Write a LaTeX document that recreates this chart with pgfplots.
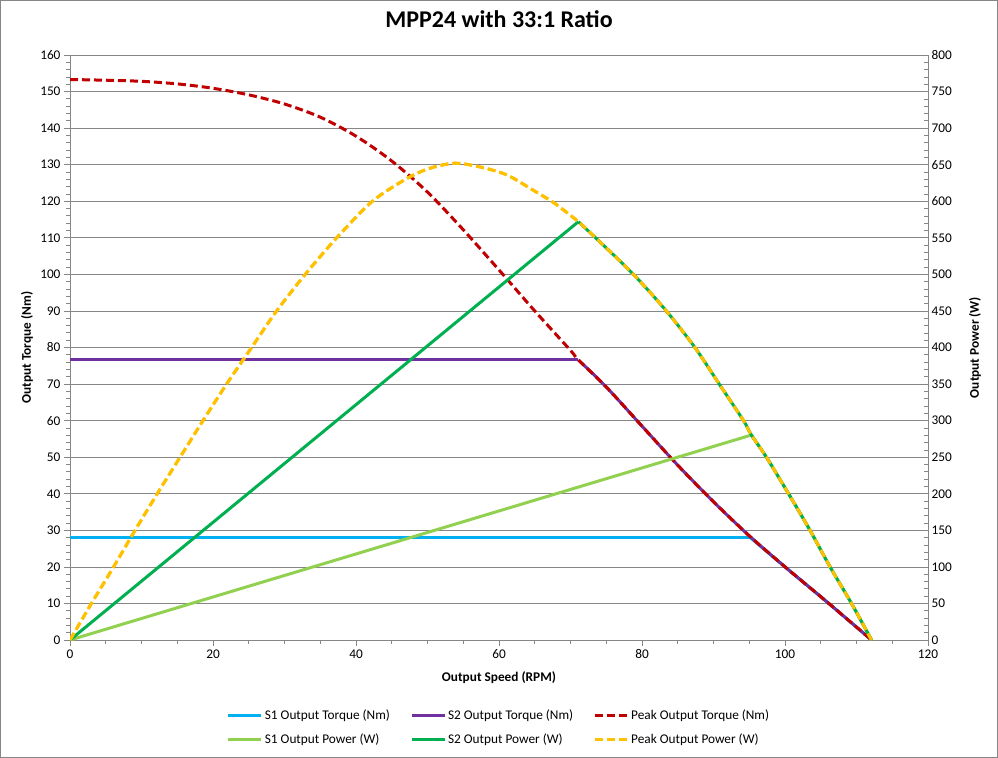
\documentclass[border=0pt]{standalone}
\usepackage{fontspec}
\setmainfont{Carlito}
\usepackage{pgfplots}
\usepackage{pgfplotstable}
\pgfplotsset{compat=1.18}
\definecolor{gridgray}{HTML}{868686}
\definecolor{sonet}{HTML}{00B0F0}
\definecolor{stwot}{HTML}{7030A0}
\definecolor{peakt}{HTML}{C00000}
\definecolor{sonep}{HTML}{92D050}
\definecolor{stwop}{HTML}{00B050}
\definecolor{peakp}{HTML}{FFC000}

\pgfplotstableread{
x y
0 28.1
95.1 28.1
}\SoneTorque

\pgfplotstableread{
x y
95.1 28.1
100 20.0
106 10.2
112.1 0
}\SoneTorqueTail

\pgfplotstableread{
x y
0 76.7
71.1 76.7
}\StwoTorque

\pgfplotstableread{
x y
71.1 76.6
75 69.2
80 58.5
85 47.8
90 37.8
95 28.5
100 20.0
106 10.2
112.1 0
}\StwoTorqueTail

\pgfplotstableread{
x y
0 153.3
5 153.1
10 152.8
15 152.1
20 150.9
25 149.1
30 146.6
35 143.0
40 137.8
45 131.0
50 122.5
55 112.2
60 101.2
65 90.0
70 79.2
71.1 76.6
75 69.2
80 58.5
85 47.8
90 37.8
95 28.5
100 20.0
106 10.2
112.1 0
}\PeakTorque

\pgfplotstableread{
x y
0 0
95.3 280.3
}\SonePower

\pgfplotstableread{
x y
95.3 280.3
97.4 250
100.5 200
103.5 150
106.3 100
109.3 50
112.1 0
}\SonePowerTail

\pgfplotstableread{
x y
0 0
71.1 572
}\StwoPower

\pgfplotstableread{
x y
71.1 572
73.4 551
78.8 500
83.4 450
87.4 400
90.8 350
94.2 300
95.3 280.3
97.4 250
100.5 200
103.5 150
106.3 100
109.3 50
112.1 0
}\StwoPowerTail

\pgfplotstableread{
x y
0 0
3.0 50
6.1 100
9.1 150
12.2 200
15.4 250
18.6 300
21.9 350
25.4 400
28.9 450
32.9 500
37.3 550
42.3 600
47.1 631
50.3 645
53.8 652
57.3 647
61.1 636
64.8 615
67.8 597
71.1 572
73.4 551
78.8 500
83.4 450
87.4 400
90.8 350
94.2 300
95.3 280.3
97.4 250
100.5 200
103.5 150
106.3 100
109.3 50
112.1 0
}\PeakPower

\newcommand{\chartfont}{\fontsize{13.3bp}{16bp}\selectfont}

\pgfplotsset{
  common/.style={
    scale only axis, width=858bp, height=585bp,
    at={(0,0)}, anchor=south west,
    xmin=0, xmax=120,
    axis line style={gridgray, line width=0.75bp},
    tick style={gridgray, line width=0.75bp},
    major tick length=6bp, minor tick length=4bp,
    ticklabel style={font=\chartfont, text=black},
    /pgf/number format/assume math mode=true,
    label style={font=\chartfont\bfseries},
    legend image code/.code={\draw[##1] (0bp,0bp) -- (33bp,0bp);},
  },
  sonets/.style={sonet, line width=3bp, line join=round},
  stwots/.style={stwot, line width=3bp, line join=round},
  peakts/.style={peakt, line width=3bp, dash pattern=on 8bp off 4bp},
  soneps/.style={sonep, line width=3bp, line join=round},
  stwops/.style={stwop, line width=3bp, line join=round},
  peakps/.style={peakp, line width=3bp, dash pattern=on 8bp off 4bp},
}

\begin{document}
\begin{tikzpicture}
\useasboundingbox (-70bp,-118bp) rectangle (928bp,640bp);
\begin{axis}[common,
  ymin=0, ymax=160, ytick distance=10, minor y tick num=4,
  xtick={0,20,...,120}, minor x tick num=3,
  ytick pos=left, xtick pos=bottom, tick align=outside,
  ymajorgrids, grid style={gridgray, line width=0.75bp},
  title={MPP24 with 33:1 Ratio},
  title style={at={(axis description cs:0.5,1.0513)}, anchor=center, font=\fontsize{24bp}{28bp}\selectfont\bfseries},
  xlabel={Output Speed (RPM)},
  xlabel style={at={(axis description cs:0.5,-0.065)}, anchor=center},
  ylabel={Output Torque (Nm)},
  ylabel style={at={(axis description cs:-0.0501,0.5)}, anchor=center},
]
\addplot[sonets] table[x=x,y=y] {\SoneTorque};
\addplot[sonets, smooth, tension=0.5] table[x=x,y=y] {\SoneTorqueTail};
\addplot[stwots] table[x=x,y=y] {\StwoTorque};
\addplot[stwots, smooth, tension=0.5] table[x=x,y=y] {\StwoTorqueTail};
\addplot[peakts, smooth, tension=0.5] table[x=x,y=y] {\PeakTorque};
\end{axis}
\begin{axis}[common,
  axis x line=none, axis y line*=right,
  ymin=0, ymax=800, ytick distance=50, minor y tick num=4,
  tick align=inside,
  every axis y label/.style={at={(axis description cs:1.0548,0.5)}, rotate=90, anchor=center, font=\chartfont\bfseries},
  ylabel={Output Power (W)},
  legend columns=3, legend cell align=left,
  legend style={at={(axis description cs:0.5,-0.149)}, anchor=center, draw=none, fill=none,
    font=\chartfont, row sep=9bp,
    /tikz/every even column/.append style={column sep=18bp}},
]
\addlegendimage{sonets}\addlegendentry{S1 Output Torque (Nm)}
\addlegendimage{stwots}\addlegendentry{S2 Output Torque (Nm)}
\addlegendimage{peakts}\addlegendentry{Peak Output Torque (Nm)}
\addplot[soneps] table[x=x,y=y] {\SonePower};\addlegendentry{S1 Output Power (W)}
\addplot[stwops] table[x=x,y=y] {\StwoPower};\addlegendentry{S2 Output Power (W)}
\addplot[peakps, smooth, tension=0.5] table[x=x,y=y] {\PeakPower};\addlegendentry{Peak Output Power (W)}
\addplot[soneps, smooth, tension=0.5, forget plot] table[x=x,y=y] {\SonePowerTail};
\addplot[stwops, smooth, tension=0.5, forget plot] table[x=x,y=y] {\StwoPowerTail};
\addplot[peakps, smooth, tension=0.5, forget plot] table[x=x,y=y] {\PeakPower};
\end{axis}
\draw[gridgray, line width=0.75bp] (-69.6bp,-117.6bp) rectangle (927.6bp,639.6bp);
\end{tikzpicture}
\end{document}
